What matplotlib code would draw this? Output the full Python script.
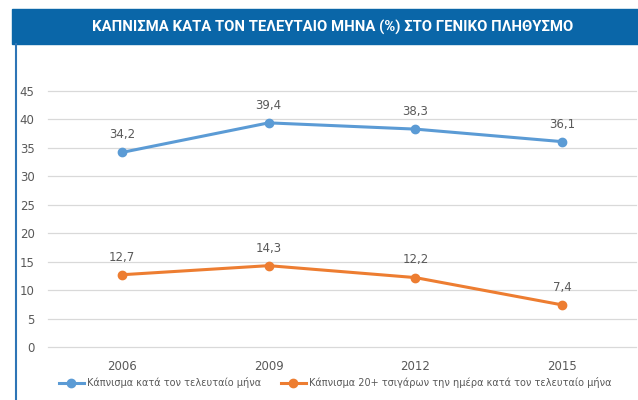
import matplotlib.pyplot as plt
from matplotlib.patches import Rectangle
from matplotlib.lines import Line2D

years = ['2006', '2009', '2012', '2015']
smoking_month = [34.2, 39.4, 38.3, 36.1]
smoking_20plus = [12.7, 14.3, 12.2, 7.4]
series_labels = ['Κάπνισμα κατά τον τελευταίο μήνα',
                 'Κάπνισμα 20+ τσιγάρων την ημέρα κατά τον τελευταίο μήνα']
title = 'ΚΑΠΝΙΣΜΑ ΚΑΤΑ ΤΟΝ ΤΕΛΕΥΤΑΙΟ ΜΗΝΑ (%) ΣΤΟ ΓΕΝΙΚΟ ΠΛΗΘΥΣΜΟ'

blue = '#5b9bd5'
orange = '#ed7d31'
gray = '#595959'

fig = plt.figure(figsize=(6.38, 4.0), dpi=100)

# header bar and left border
fig.patches.append(Rectangle((12 / 638, 1 - 44 / 400), 1, 35 / 400,
                             transform=fig.transFigure, color='#0a66a8', zorder=0))
fig.add_artist(Line2D([16 / 638, 16 / 638], [0, 1 - 44 / 400], transform=fig.transFigure,
                      color='#2e75b6', lw=1.5))
fig.text(333 / 638, 1 - 27 / 400, title, color='white', fontsize=10.7, fontweight='bold',
         family='Roboto', ha='center', va='center')

ax = fig.add_axes([48.5 / 638, 1 - 347 / 400, 587 / 638, 256 / 400])
x = range(len(years))
for vals, c, lab in [(smoking_month, blue, series_labels[0]), (smoking_20plus, orange, series_labels[1])]:
    ax.plot(x, vals, color=c, lw=2.2, marker='o', ms=6, label=lab, zorder=3)
    for xi, v in zip(x, vals):
        ax.annotate(f'{v:.1f}'.replace('.', ','), (xi, v), xytext=(0, 8), textcoords='offset points',
                    ha='center', va='bottom', fontsize=8.5, color=gray)

ax.set_xlim(-0.5, len(years) - 0.5)
ax.set_ylim(0, 45)
ax.set_yticks(range(0, 46, 5))
ax.set_xticks(list(x))
ax.set_xticklabels(years)
ax.grid(axis='y', color='#d9d9d9', lw=0.9)
for gl in ax.get_ygridlines():
    gl.set_clip_on(False)
ax.set_axisbelow(True)
for s in ax.spines.values():
    s.set_visible(False)
ax.tick_params(length=0, labelsize=8.5, labelcolor=gray)
ax.tick_params(axis='y', pad=10)
ax.tick_params(axis='x', pad=9)

ax.legend(loc='center', bbox_to_anchor=(335 / 638, 1 - 383 / 400), bbox_transform=fig.transFigure,
          ncol=2, frameon=False, fontsize=7, labelcolor=gray, handlelength=2.6,
          columnspacing=2, handletextpad=0.3)

fig.savefig('out.png', dpi=100)
